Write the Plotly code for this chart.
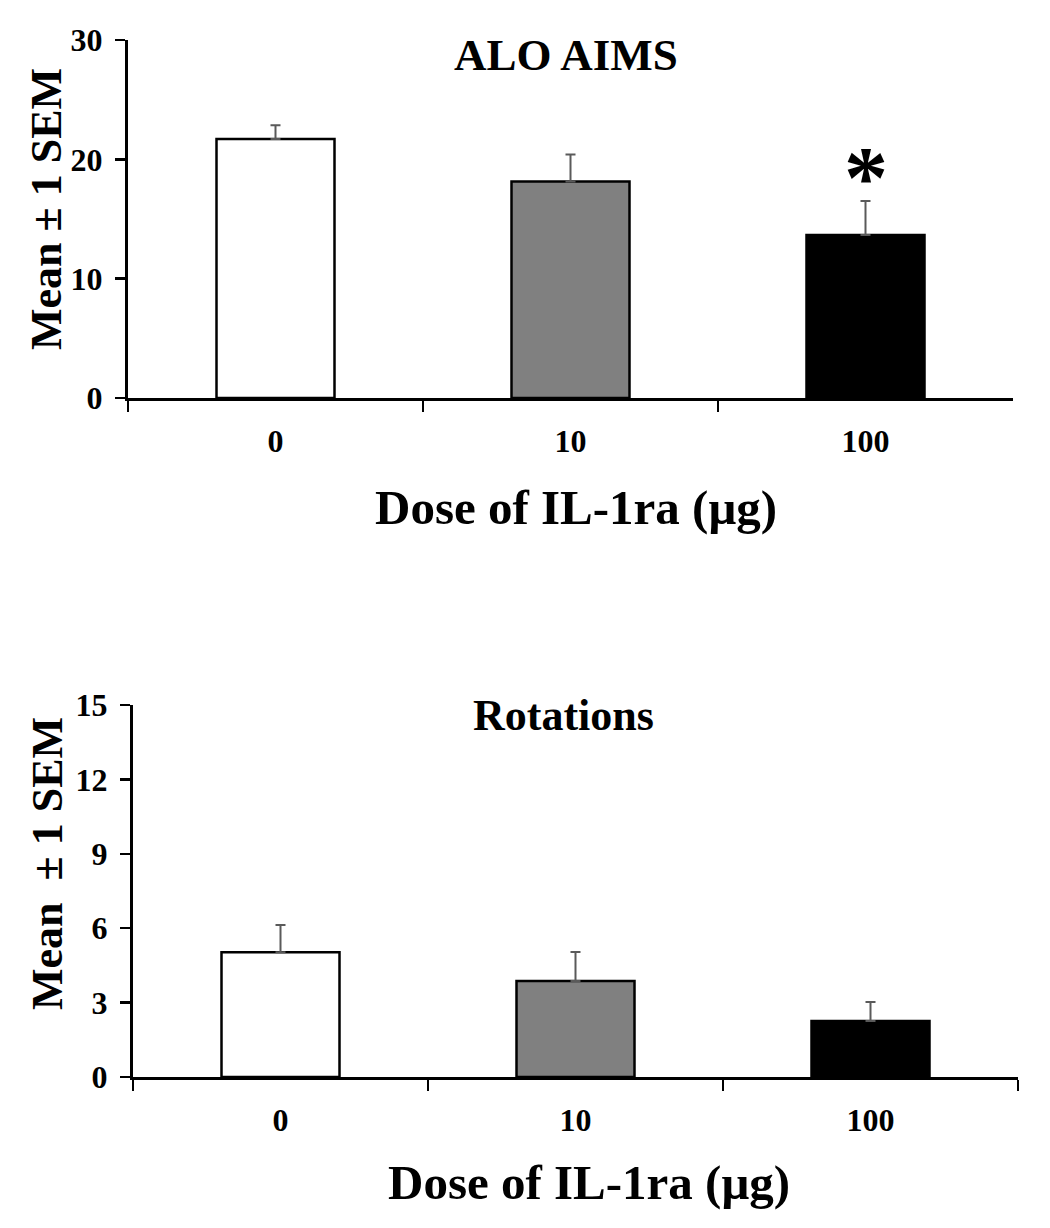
import plotly.graph_objects as go

# ---- data ----
doses = ["0", "10", "100"]
aims_mean = [21.7, 18.15, 13.65]
aims_sem = [1.15, 2.25, 2.85]
rot_mean = [5.03, 3.87, 2.26]
rot_sem = [1.1, 1.17, 0.76]
bar_colors = ["#ffffff", "#808080", "#000000"]
aims_ticks = [0, 10, 20, 30]
rot_ticks = [0, 3, 6, 9, 12, 15]
sig_marker = ["", "", "*"]

W, H = 1050, 1228
FONT = "Liberation Serif"


def px(x):
    return x / W


def py(y):
    return 1 - y / H


fig = go.Figure()

err_style = dict(type="data", symmetric=False, color="#5a5a5a", thickness=2, width=5)

fig.add_trace(go.Bar(
    x=doses, y=aims_mean,
    marker=dict(color=bar_colors, line=dict(color="black", width=2.5)),
    error_y=dict(array=aims_sem, arrayminus=[0] * len(doses), **err_style),
    xaxis="x", yaxis="y", hoverinfo="skip",
))
fig.add_trace(go.Bar(
    x=doses, y=rot_mean,
    marker=dict(color=bar_colors, line=dict(color="black", width=2.5)),
    error_y=dict(array=rot_sem, arrayminus=[0] * len(doses), **err_style),
    xaxis="x2", yaxis="y2", hoverinfo="skip",
))

tickfont = dict(family=FONT, size=32, color="black", weight="bold")

xcommon = dict(type="category", categoryorder="array", categoryarray=doses,
               range=[-0.5, len(doses) - 0.5], autorange=False,
               tickson="boundaries", ticks="outside", ticklen=11, tickangle=0,
               tickwidth=2.5, tickcolor="black", showline=True, linewidth=3,
               linecolor="black", showgrid=False, zeroline=False, tickfont=tickfont,
               ticklabelstandoff=13, fixedrange=True, automargin=False)
ycommon = dict(ticks="outside", ticklen=10, tickwidth=2.5, tickcolor="black",
               showline=True, linewidth=3, linecolor="black", showgrid=False,
               zeroline=False, tickfont=tickfont, ticklabelstandoff=6,
               fixedrange=True, automargin=False, autorange=False)

fig.update_layout(
    width=W, height=H,
    margin=dict(l=0, r=0, t=0, b=0, pad=0, autoexpand=False),
    paper_bgcolor="white", plot_bgcolor="white",
    showlegend=False, bargap=0.6,
    xaxis=dict(domain=[px(128), px(1013)], anchor="y", **xcommon),
    yaxis=dict(domain=[py(398), py(40)], anchor="x", range=[0, 30],
               tickvals=aims_ticks, **ycommon),
    xaxis2=dict(domain=[px(133), px(1018)], anchor="y2", **xcommon),
    yaxis2=dict(domain=[py(1077), py(705)], anchor="x2", range=[0, 15],
                tickvals=rot_ticks, **ycommon),
)

title_font = dict(family=FONT, size=45, color="black", weight="bold")
annots = [
    dict(text="ALO AIMS", x=px(566), y=py(55), font=title_font),
    dict(text="Rotations", x=px(563), y=py(715), font=dict(title_font, size=44)),
    dict(text="Dose of IL-1ra (μg)", x=px(576), y=py(508), font=dict(title_font, size=49)),
    dict(text="Dose of IL-1ra (μg)", x=px(589), y=py(1182), font=dict(title_font, size=49)),
    dict(text="Mean ± 1 SEM", x=px(47), y=py(209), textangle=-90, font=dict(title_font, size=44)),
    dict(text="Mean\u00a0\u00a0± 1 SEM", x=px(47), y=py(864), textangle=-90, font=dict(title_font, size=44)),
]
for a in annots:
    fig.add_annotation(xref="paper", yref="paper", showarrow=False,
                       xanchor="center", yanchor="middle", **a)

# significance marker above the error bar
for i, (m, s, mk) in enumerate(zip(aims_mean, aims_sem, sig_marker)):
    if mk:
        fig.add_annotation(x=i, y=m + s, xref="x", yref="y", text=mk, showarrow=False,
                           xanchor="center", yanchor="bottom", yshift=-27,
                           font=dict(family=FONT, size=88, color="black", weight="bold"))

fig.write_html("out.html", config={"displayModeBar": False, "staticPlot": True},
               post_script="document.body.style.margin='0';")
